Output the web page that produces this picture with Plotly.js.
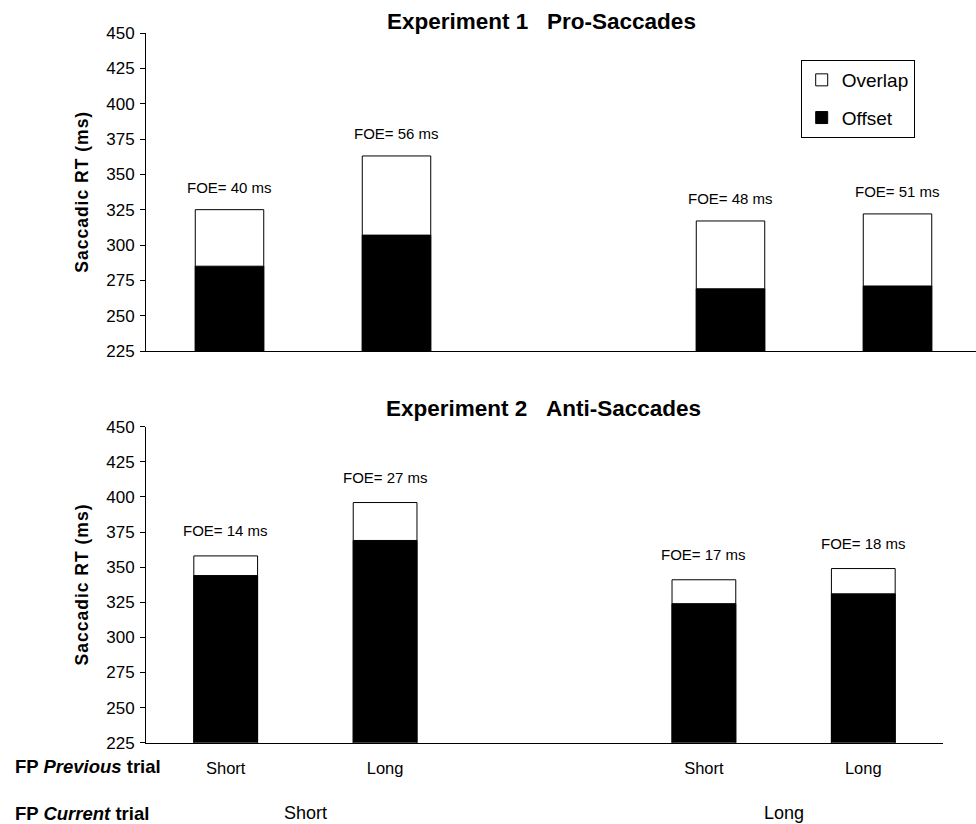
<!DOCTYPE html>
<html>
<head>
<meta charset="utf-8">
<script src="https://cdn.plot.ly/plotly-3.0.1.min.js"></script>
<style>
html,body{margin:0;padding:0;background:#fff;overflow:hidden;}
#chart{width:976px;height:824px;}
g.annotation[data-index="0"] text, g.annotation[data-index="1"] text{letter-spacing:1px;}
</style>
</head>
<body>
<div id="chart"></div>
<script>
// ---- data ----
const prevLabels = ['Short', 'Long', 'Short', 'Long'];   // FP previous trial
const currentLabels = ['Short', 'Long'];                  // FP current trial
const proOverlap = [325, 363, 317, 322];
const proOffset  = [285, 307, 269, 271];
const proFOE     = [40, 56, 48, 51];
const antiOverlap = [358, 396, 341, 349];
const antiOffset  = [344, 369, 324, 331];
const antiFOE     = [14, 27, 17, 18];
const yTicks = [225, 250, 275, 300, 325, 350, 375, 400, 425, 450];
const yTitle = 'Saccadic RT (ms)';

// category positions: two groups of two, with a gap between groups
const xPos = prevLabels.map((_, i) => Math.floor(i / 2) * 3 + (i % 2) + 1);
const groupCenters = currentLabels.map((_, g) => (xPos[2 * g] + xPos[2 * g + 1]) / 2);

const FONT = 'Arial, "Liberation Sans", sans-serif';

const traces = [
  {type: 'bar', name: 'Overlap', x: xPos, y: proOverlap, xaxis: 'x', yaxis: 'y', width: 0.41,
   marker: {color: '#ffffff', line: {color: '#000', width: 1}}, legendgroup: 'a', hoverinfo: 'y'},
  {type: 'bar', name: 'Offset', x: xPos, y: proOffset, xaxis: 'x', yaxis: 'y', width: 0.41,
   marker: {color: '#000000', line: {color: '#000', width: 1}}, legendgroup: 'b', hoverinfo: 'y'},
  {type: 'bar', name: 'Overlap', x: xPos, y: antiOverlap, xaxis: 'x2', yaxis: 'y2', width: 0.40,
   marker: {color: '#ffffff', line: {color: '#000', width: 1}}, legendgroup: 'a', showlegend: false, hoverinfo: 'y'},
  {type: 'bar', name: 'Offset', x: xPos, y: antiOffset, xaxis: 'x2', yaxis: 'y2', width: 0.40,
   marker: {color: '#000000', line: {color: '#000', width: 1}}, legendgroup: 'b', showlegend: false, hoverinfo: 'y'}
];

const topDom = [1 - 351 / 824, 1 - 33 / 824];
const botDom = [1 - 742.7 / 824, 1 - 426.7 / 824];

const annotations = [];
// y-axis titles (indices 0, 1)
[topDom, botDom].forEach(d => {
  annotations.push({xref: 'paper', yref: 'paper', x: (81.7 - 146) / 830, y: (d[0] + d[1]) / 2,
    xanchor: 'center', yanchor: 'middle', textangle: -90, text: '<b>' + yTitle + '</b>', showarrow: false,
    font: {family: FONT, size: 17.5, color: '#000'}});
});
xPos.forEach((x, i) => {
  annotations.push({xref: 'x', yref: 'y', x: x, y: proOverlap[i], text: 'FOE= ' + proFOE[i] + ' ms',
    showarrow: false, yanchor: 'middle', yshift: 22, font: {family: FONT, size: 15, color: '#000'}});
  annotations.push({xref: 'x2', yref: 'y2', x: x, y: antiOverlap[i], text: 'FOE= ' + antiFOE[i] + ' ms',
    showarrow: false, yanchor: 'middle', yshift: 25, font: {family: FONT, size: 15, color: '#000'}});
});
annotations.push({xref: 'paper', yref: 'paper', x: -0.16, y: 1 - 766.7 / 824, xanchor: 'left', yanchor: 'middle',
  text: '<b>FP <i>Previous</i> trial</b>', showarrow: false, font: {family: FONT, size: 18.5, color: '#000'}});
annotations.push({xref: 'paper', yref: 'paper', x: -0.16, y: 1 - 813.3 / 824, xanchor: 'left', yanchor: 'middle',
  text: '<b>FP <i>Current</i> trial</b>', showarrow: false, font: {family: FONT, size: 18.5, color: '#000'}});
currentLabels.forEach((lab, g) => {
  annotations.push({xref: 'x2', yref: 'paper', x: groupCenters[g], y: 1 - 813.3 / 824, yanchor: 'middle',
    text: lab, showarrow: false, font: {family: FONT, size: 18, color: '#000'}});
});
annotations.push({xref: 'paper', yref: 'paper', x: (541.5 - 146) / 830, y: 1 - 21.7 / 824, yanchor: 'middle',
  text: '<b>Experiment 1\u00a0\u00a0\u00a0Pro-Saccades</b>', showarrow: false, font: {family: FONT, size: 22.5, color: '#000'}});
annotations.push({xref: 'paper', yref: 'paper', x: (543.5 - 146) / 830, y: 1 - 408.3 / 824, yanchor: 'middle',
  text: '<b>Experiment 2\u00a0\u00a0\u00a0Anti-Saccades</b>', showarrow: false, font: {family: FONT, size: 22.5, color: '#000'}});

const yaxisBase = {
  range: [225, 450], tickvals: yTicks, ticks: 'outside', ticklen: 5, tickcolor: '#000', tickwidth: 1,
  showline: true, linecolor: '#000', linewidth: 1, showgrid: false, zeroline: false,
  tickfont: {family: FONT, size: 17, color: '#000'}, ticklabelstandoff: 2
};

const layout = {
  width: 976, height: 824,
  margin: {l: 146, r: 0, t: 0, b: 0},
  paper_bgcolor: '#fff', plot_bgcolor: '#fff',
  barmode: 'overlay',
  font: {family: FONT, color: '#000'},
  xaxis: {domain: [0, 1], range: [0.5, 5.47], showline: true, linecolor: '#000', linewidth: 1,
    showticklabels: false, ticks: '', showgrid: false, zeroline: false, anchor: 'y'},
  xaxis2: {domain: [0, 797 / 830], range: [0.5, 5.5], showline: true, linecolor: '#000', linewidth: 1,
    tickvals: xPos, ticktext: prevLabels, ticks: '', ticklabelstandoff: 10,
    tickfont: {family: FONT, size: 16.5, color: '#000'}, showgrid: false, zeroline: false, anchor: 'y2'},
  yaxis: Object.assign({}, yaxisBase, {domain: topDom, anchor: 'x'}),
  yaxis2: Object.assign({}, yaxisBase, {domain: botDom, anchor: 'x2'}),
  showlegend: true,
  legend: {x: (800.7 - 146) / 830, y: 1 - 60 / 824, xanchor: 'left', yanchor: 'top',
    bordercolor: '#000', borderwidth: 1, bgcolor: '#fff', traceorder: 'grouped', tracegroupgap: 10,
    itemwidth: 30, font: {family: FONT, size: 19, color: '#000'}},
  annotations: annotations
};

Plotly.newPlot('chart', traces, layout, {displayModeBar: false, staticPlot: true});
</script>
</body>
</html>
